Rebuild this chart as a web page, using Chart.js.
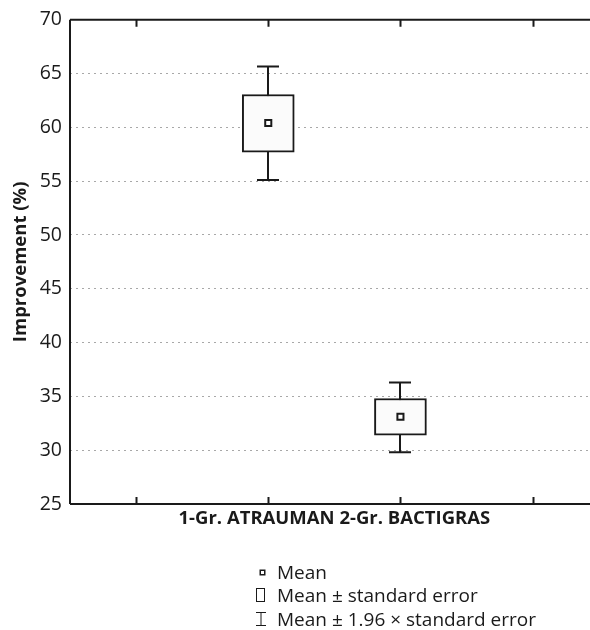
<!DOCTYPE html>
<html>
<head>
<meta charset="utf-8">
<script src="https://cdn.jsdelivr.net/npm/chart.js@4.4.1/dist/chart.umd.min.js"></script>
<style>
  html, body { margin: 0; padding: 0; background: #fff; overflow: hidden; width: 590px; height: 630px; }
  #wrap { position: relative; width: 590px; height: 630px; overflow: hidden; }
  canvas { position: absolute; left: 0; top: 0; }
  #legend { position: absolute; left: 254px; top: 560.5px; font-family: "Open Sans", sans-serif; font-size: 19px; color: #1a1a1a; }
  .row { position: relative; height: 23.5px; line-height: 23.5px; white-space: nowrap; }
  .row svg { position: absolute; left: 0; top: 0; }
  .row span { position: absolute; left: 23px; top: 0; }
</style>
</head>
<body>
<div id="wrap">
  <canvas id="c" width="605" height="630"></canvas>
  <div id="legend"></div>
</div>
<script>
// ---- data ----
const categories = ['', '1', '2', ''];
const means  = [null, 60.4, 33.1, null];
const seLow  = [null, 57.7, 31.4, null];
const seHigh = [null, 63.05, 34.8, null];
const ciLow  = [null, 55.1, 29.8, null];
const ciHigh = [null, 65.65, 36.3, null];
const yTicks = [25, 30, 35, 40, 45, 50, 55, 60, 65, 70];
const xTitle = '1-Gr. ATRAUMAN 2-Gr. BACTIGRAS';
const yTitle = 'Improvement (%)';
const legendLabels = ['Mean', 'Mean ± standard error', 'Mean ± 1.96 × standard error'];

const FONT = '"Open Sans", sans-serif';
const INK = '#1a1a1a';

const frameAndTicks = {
  id: 'frameAndTicks',
  afterDraw(chart) {
    const { ctx, chartArea: a, scales: { x } } = chart;
    ctx.save();
    ctx.strokeStyle = INK;
    ctx.lineWidth = 2;
    ctx.beginPath();
    ctx.moveTo(a.left, a.top); ctx.lineTo(a.right, a.top);
    ctx.moveTo(a.left, a.bottom); ctx.lineTo(a.right, a.bottom);
    ctx.moveTo(a.left, a.top); ctx.lineTo(a.left, a.bottom);
    ctx.moveTo(a.right, a.top); ctx.lineTo(a.right, a.bottom);
    ctx.stroke();
    ctx.beginPath();
    categories.forEach((c, i) => {
      const px = Math.round(x.getPixelForTick(i)) + 0.5;
      ctx.moveTo(px, a.bottom); ctx.lineTo(px, a.bottom - 7);
      ctx.moveTo(px, a.top); ctx.lineTo(px, a.top + 7);
    });
    ctx.stroke();
    ctx.restore();
  }
};

const whiskers = {
  id: 'whiskers',
  beforeDatasetsDraw(chart) {
    const { ctx, scales: { x, y } } = chart;
    ctx.save();
    ctx.strokeStyle = INK;
    ctx.lineWidth = 2;
    categories.forEach((c, i) => {
      if (ciLow[i] == null) return;
      const px = Math.round(x.getPixelForValue(i));
      const yl = y.getPixelForValue(ciLow[i]);
      const yh = y.getPixelForValue(ciHigh[i]);
      ctx.beginPath();
      ctx.moveTo(px, yh); ctx.lineTo(px, yl);
      ctx.moveTo(px - 11, yh); ctx.lineTo(px + 11, yh);
      ctx.moveTo(px - 11, yl); ctx.lineTo(px + 11, yl);
      ctx.stroke();
    });
    ctx.restore();
  }
};

new Chart(document.getElementById('c'), {
  type: 'bar',
  data: {
    labels: categories,
    datasets: [
      {
        type: 'line',
        label: legendLabels[0],
        data: means,
        showLine: false,
        pointStyle: 'rect',
        pointRadius: 4.3,
        pointHoverRadius: 4.3,
        pointBorderWidth: 2,
        pointBackgroundColor: '#ffffff',
        pointBorderColor: INK,
        order: 0
      },
      {
        type: 'bar',
        label: legendLabels[1],
        data: categories.map((c, i) => seLow[i] == null ? null : [seLow[i], seHigh[i]]),
        backgroundColor: '#fbfbfb',
        borderColor: INK,
        borderWidth: 2,
        borderSkipped: false,
        barThickness: 52,
        order: 1
      }
    ]
  },
  options: {
    responsive: false,
    animation: false,
    devicePixelRatio: 1,
    layout: { padding: { top: 19, left: 0, right: 5, bottom: 86 } },
    plugins: { legend: { display: false }, tooltip: { enabled: false } },
    events: [],
    scales: {
      x: {
        offset: true,
        grid: { display: false },
        border: { display: false },
        ticks: { display: false },
        title: {
          display: true, text: xTitle, color: INK,
          font: { family: FONT, size: 18.5, weight: 'bold' },
          padding: { top: 0, bottom: 14 }
        },
        afterFit(s) { s.height = 40; }
      },
      y: {
        min: 25, max: 70,
        afterBuildTicks(s) { s.ticks = yTicks.map(v => ({ value: v })); },
        grid: { color: '#a8a8a8', lineWidth: 1, drawTicks: false },
        border: { display: false, dash: [2, 4] },
        ticks: { color: INK, font: { family: FONT, size: 19.5 }, padding: 8 },
        title: {
          display: true, text: yTitle, color: INK,
          font: { family: FONT, size: 18.5, weight: 'bold' },
          padding: { top: 10, bottom: 0 }
        },
        afterFit(s) { s.width = 70; }
      }
    }
  },
  plugins: [whiskers, frameAndTicks]
});

// ---- legend (HTML text with small drawn symbols) ----
const icons = [
  '<svg width="16" height="24"><rect x="6.25" y="9.25" width="4.5" height="4.5" fill="#fff" stroke="#1a1a1a" stroke-width="1.5"/></svg>',
  '<svg width="16" height="24"><rect x="2.5" y="4.5" width="8" height="13" fill="#fff" stroke="#1a1a1a" stroke-width="1"/></svg>',
  '<svg width="16" height="24"><path d="M2 4.5 H12 M7 4.5 V17.5 M2 17.5 H12" fill="none" stroke="#1a1a1a" stroke-width="1"/></svg>'
];
const lg = document.getElementById('legend');
legendLabels.forEach((t, i) => {
  const r = document.createElement('div');
  r.className = 'row';
  r.innerHTML = icons[i];
  const s = document.createElement('span');
  s.textContent = t;
  r.appendChild(s);
  lg.appendChild(r);
});
</script>
</body>
</html>
